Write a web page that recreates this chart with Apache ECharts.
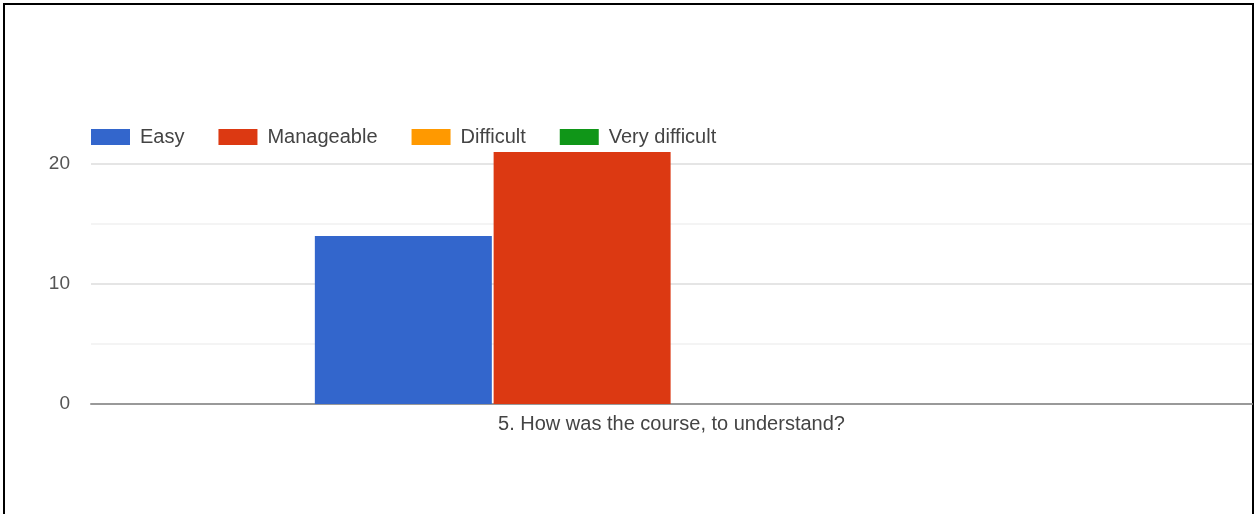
<!DOCTYPE html>
<html>
<head>
<meta charset="utf-8">
<script src="https://cdn.jsdelivr.net/npm/echarts@6/dist/echarts.min.js"></script>
<style>
  html, body { margin: 0; padding: 0; background: #fff; }
  #frame {
    position: absolute; left: 3px; top: 3px; width: 1247px; height: 520px;
    border: 2px solid #000; border-bottom: none;
  }
  #chart { position: absolute; left: 0; top: 0; width: 1254px; height: 514px; }
</style>
</head>
<body>
<div id="frame"></div>
<div id="chart"></div>
<script>
// data
const categories = ['5. How was the course, to understand?']
const seriesNames = ['Easy', 'Manageable', 'Difficult', 'Very difficult']
const seriesValues = [[14], [21], [0], [0]]
const colorList = ['#3366cc', '#dc3912', '#ff9900', '#109618']
const yTickLabels = [0, 10, 20]

const chart = echarts.init(document.getElementById('chart'))
const font = 'Arial, "Liberation Sans", sans-serif'
const option = {
  animation: false,
  color: colorList,
  legend: {
    left: 86,
    top: 122,
    itemWidth: 39,
    itemHeight: 16,
    itemGap: 34,
    icon: 'rect',
    textStyle: { fontFamily: font, fontSize: 20, color: '#444', padding: [0, 0, 0, 5] },
    data: seriesNames
  },
  grid: { left: 91, right: 2, top: 152, bottom: 110 },
  xAxis: {
    type: 'category',
    data: categories,
    axisTick: { show: false },
    axisLine: { lineStyle: { color: '#999', width: 2 } },
    axisLabel: { fontFamily: font, fontSize: 20, color: '#444', margin: 10 }
  },
  yAxis: {
    type: 'value',
    min: 0,
    max: 21,
    interval: 5,
    axisLine: { show: false },
    axisTick: { show: false },
    axisLabel: {
      fontFamily: font, fontSize: 19, color: '#555', margin: 21,
      formatter: (v) => (yTickLabels.includes(v) ? String(v) : '')
    },
    splitLine: {
      lineStyle: {
        color: ['#999', '#f0f0f0', '#dcdcdc', '#f0f0f0', '#dcdcdc', 'rgba(0,0,0,0)'],
        width: 1.5
      }
    }
  },
  series: seriesNames.map((name, i) => ({
    name,
    type: 'bar',
    data: seriesValues[i],
    barWidth: 177,
    barGap: '1%'
  }))
}
chart.setOption(option)
</script>
</body>
</html>
